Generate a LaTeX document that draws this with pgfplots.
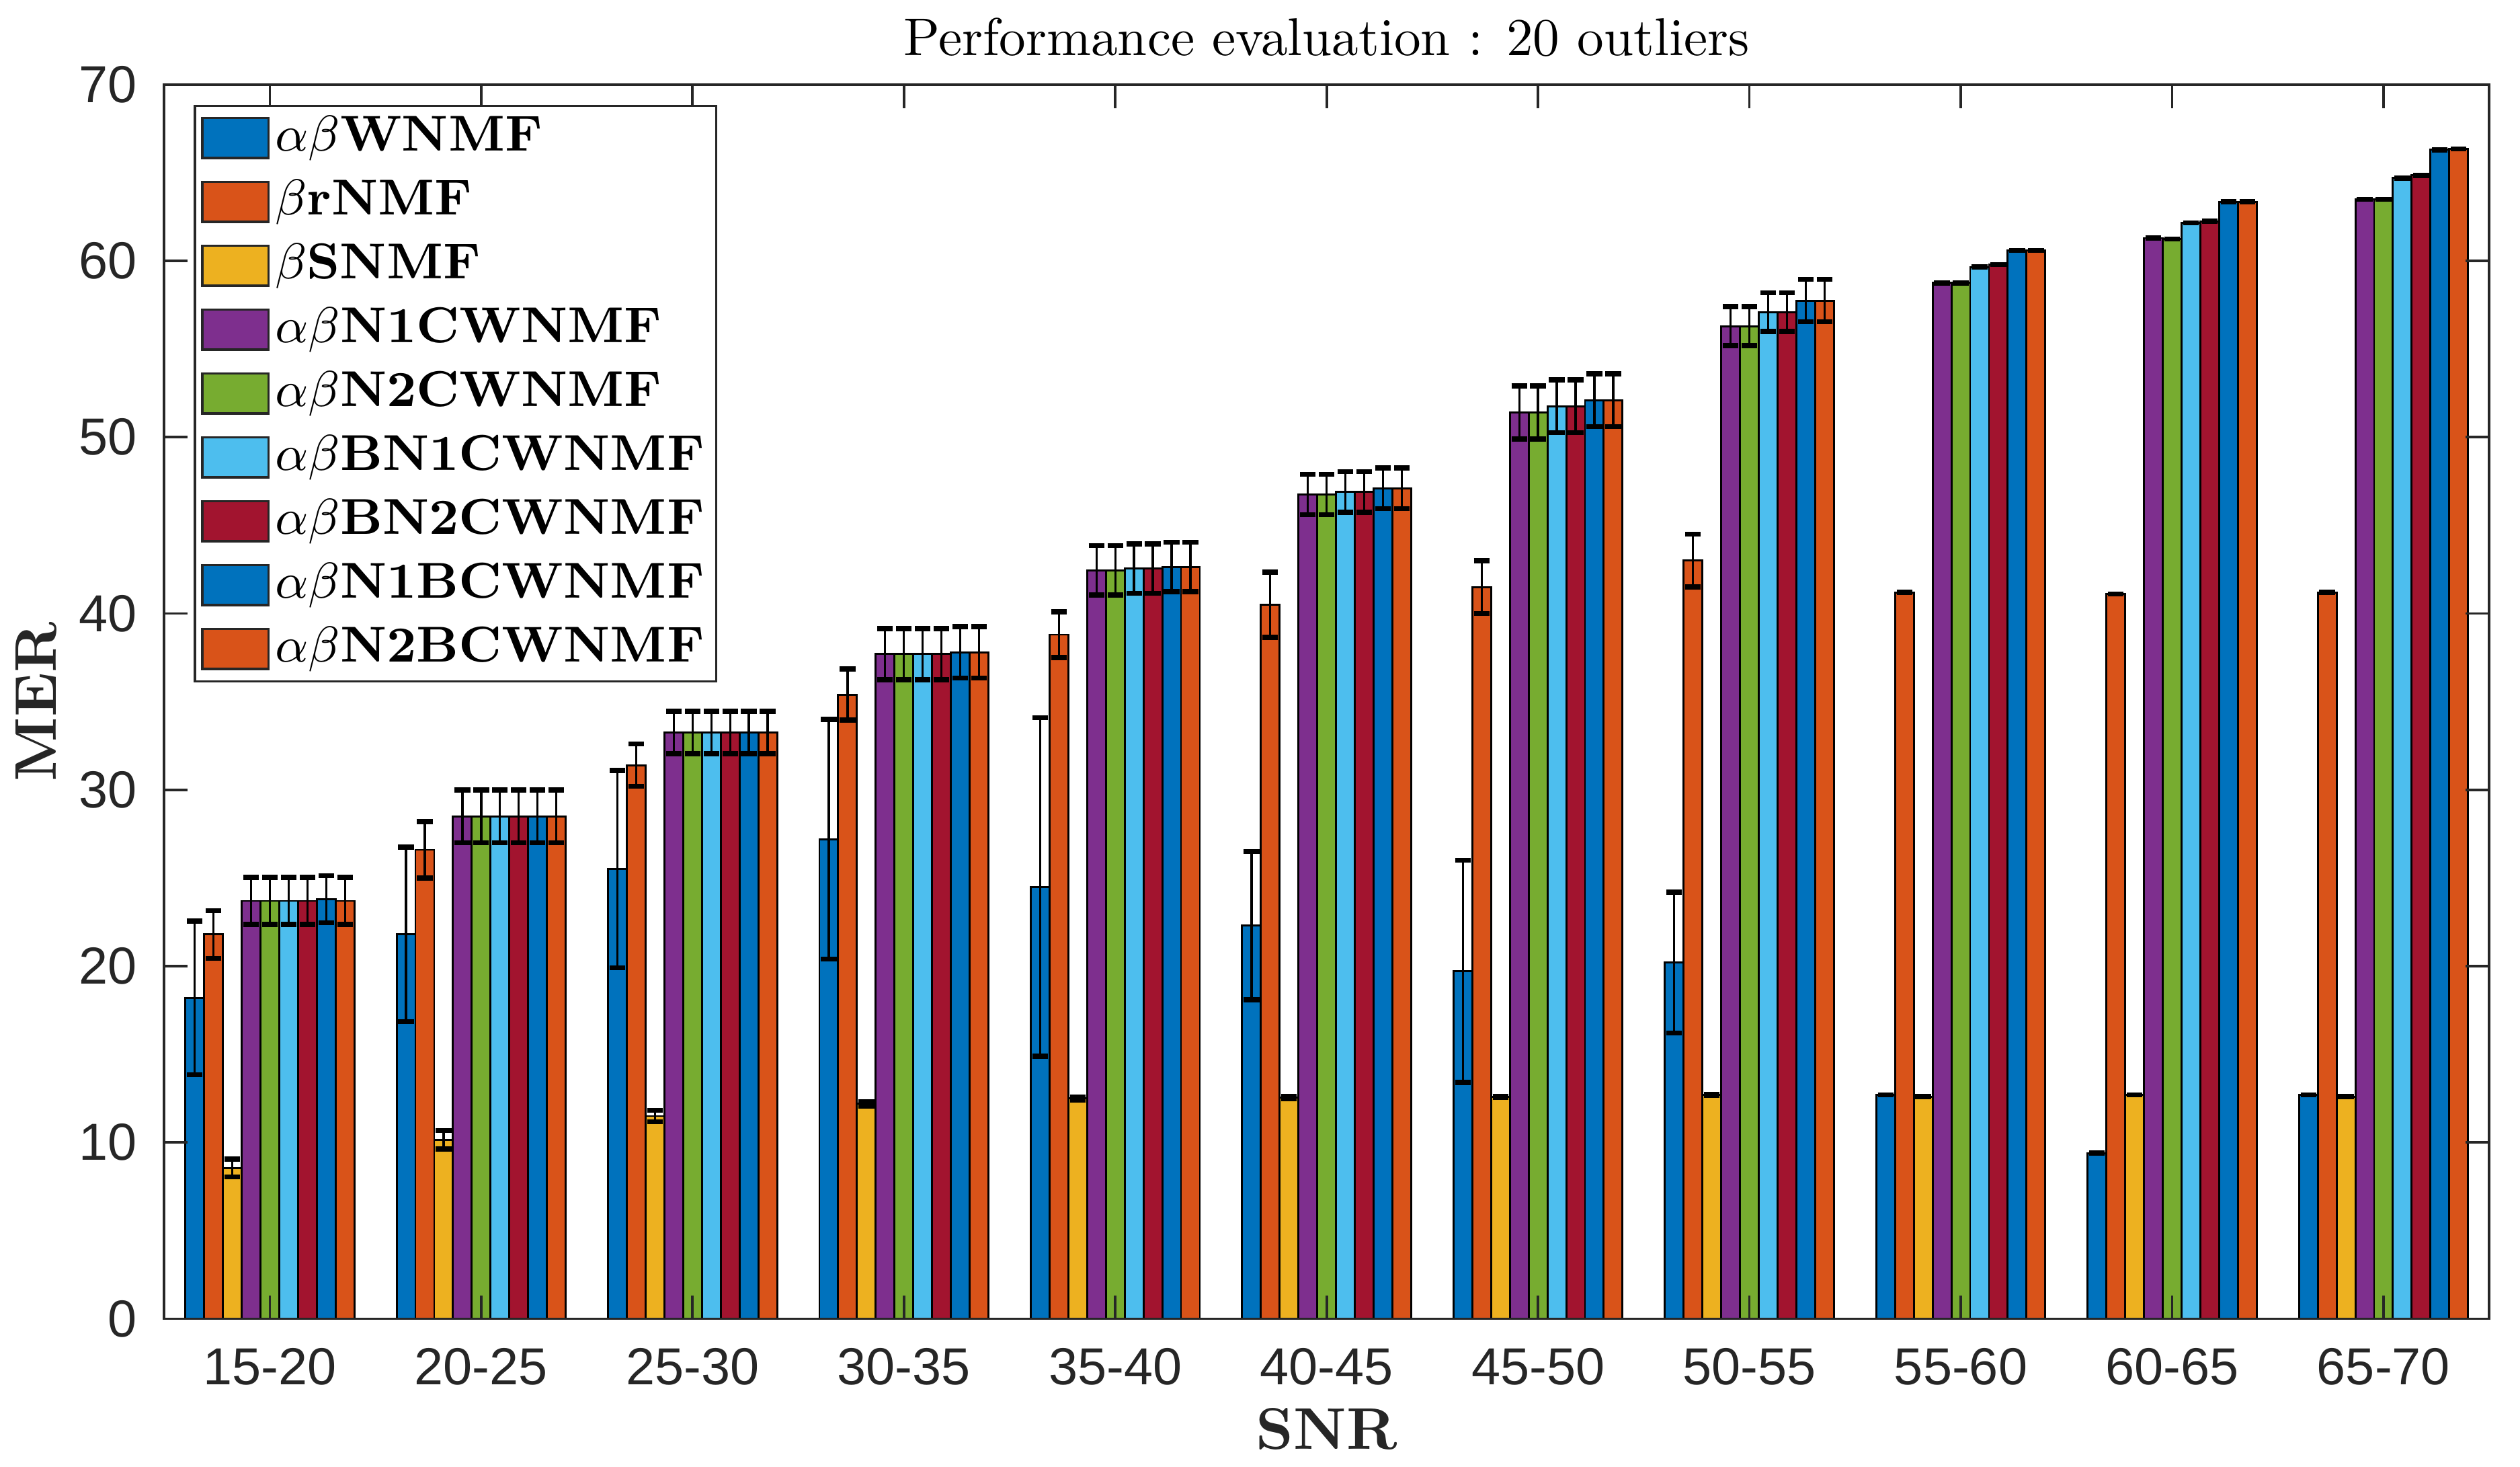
\documentclass[border=0pt]{standalone}
\usepackage{pgfplots}
\pgfplotsset{compat=1.18}
\usepackage{pgfplotstable}
\usepackage{fontspec}
\newfontfamily\ticksf{Liberation Sans}
\definecolor{c1}{rgb}{0,0.447,0.741}
\definecolor{c2}{rgb}{0.85,0.325,0.098}
\definecolor{c3}{rgb}{0.929,0.694,0.125}
\definecolor{c4}{rgb}{0.494,0.184,0.556}
\definecolor{c5}{rgb}{0.466,0.674,0.188}
\definecolor{c6}{rgb}{0.301,0.745,0.933}
\definecolor{c7}{rgb}{0.635,0.078,0.184}
\definecolor{axgray}{rgb}{0.15,0.15,0.15}

% alpha-beta WNMF
\pgfplotstableread{
x y e
0 18.2 4.35
1 21.8 4.95
2 25.5 5.6
3 27.2 6.8
4 24.5 9.6
5 22.3 4.2
6 19.7 6.3
7 20.2 4.0
8 12.7 0
9 9.4 0
10 12.7 0
}\tA
% beta rNMF
\pgfplotstableread{
x y e
0 21.8 1.35
1 26.6 1.6
2 31.4 1.2
3 35.4 1.45
4 38.8 1.3
5 40.5 1.85
6 41.5 1.5
7 43.0 1.5
8 41.2 0
9 41.1 0
10 41.2 0
}\tB
% beta SNMF
\pgfplotstableread{
x y e
0 8.55 0.5
1 10.15 0.52
2 11.5 0.32
3 12.2 0.12
4 12.5 0.08
5 12.55 0.06
6 12.6 0.03
7 12.7 0.03
8 12.6 0
9 12.7 0
10 12.6 0
}\tC
% N1CWNMF
\pgfplotstableread{
x y e
0 23.7 1.33
1 28.5 1.5
2 33.25 1.2
3 37.7 1.45
4 42.45 1.4
5 46.75 1.15
6 51.4 1.5
7 56.3 1.1
8 58.75 0
9 61.3 0
10 63.5 0
}\tD
% N2CWNMF
\pgfplotstableread{
x y e
0 23.7 1.33
1 28.5 1.5
2 33.25 1.2
3 37.7 1.45
4 42.45 1.4
5 46.75 1.15
6 51.4 1.5
7 56.3 1.1
8 58.75 0
9 61.25 0
10 63.5 0
}\tE
% BN1CWNMF
\pgfplotstableread{
x y e
0 23.7 1.33
1 28.5 1.5
2 33.25 1.2
3 37.7 1.45
4 42.55 1.4
5 46.9 1.15
6 51.75 1.5
7 57.1 1.1
8 59.65 0
9 62.15 0
10 64.7 0
}\tF
% BN2CWNMF
\pgfplotstableread{
x y e
0 23.7 1.33
1 28.5 1.5
2 33.25 1.2
3 37.7 1.45
4 42.55 1.4
5 46.9 1.15
6 51.75 1.5
7 57.1 1.1
8 59.8 0
9 62.25 0
10 64.85 0
}\tG
% N1BCWNMF
\pgfplotstableread{
x y e
0 23.8 1.33
1 28.5 1.5
2 33.25 1.2
3 37.8 1.45
4 42.65 1.4
5 47.1 1.15
6 52.1 1.5
7 57.75 1.2
8 60.6 0
9 63.35 0
10 66.3 0
}\tH
% N2BCWNMF
\pgfplotstableread{
x y e
0 23.7 1.33
1 28.5 1.5
2 33.25 1.2
3 37.8 1.45
4 42.65 1.4
5 47.1 1.15
6 52.1 1.5
7 57.75 1.2
8 60.6 0
9 63.35 0
10 66.35 0
}\tI

\pgfplotsset{
  mybar/.style={fill=#1, draw=black, line width=0.35pt,
    error bars/y dir=both, error bars/y explicit,
    error bars/error bar style={line width=0.4pt, black, solid},
    error bars/error mark options={rotate=90, mark size=1.4pt, line width=0.9pt, black}},
}

\begin{document}
\begin{tikzpicture}
\path[use as bounding box] (-29.3pt,-26.4pt) rectangle (420.6pt,235.4pt);
\begin{axis}[
  at={(0pt,0pt)}, anchor=south west,
  scale only axis, width=415.1pt, height=220.3pt,
  xmin=-0.5, xmax=10.5, ymin=0, ymax=70,
  ybar=0pt, bar width=3.354pt,
  axis on top,
  axis line style={axgray, line width=0.45pt},
  every tick/.style={axgray, line width=0.45pt},
  tick align=inside, tick pos=both, major tick length=4.2pt,
  xtick={0,...,10},
  xticklabels={15-20,20-25,25-30,30-35,35-40,40-45,45-50,50-55,55-60,60-65,65-70},
  ytick={0,10,...,70},
  /pgf/number format/assume math mode=true,
  tick label style={font=\ticksf\fontsize{9.3}{10}\selectfont, text=axgray},
  xticklabel style={yshift=-1.7pt},
  yticklabel style={xshift=-1.3pt},
  xlabel={\textbf{SNR}}, ylabel={\textbf{MER}},
  xlabel style={font=\fontsize{10.5}{12}\selectfont, text=axgray, at={(axis description cs:0.5,-0.0894)}, anchor=center},
  ylabel style={font=\fontsize{10.5}{12}\selectfont, text=axgray, at={(axis description cs:-0.0549,0.5)}, anchor=center},
  title={Performance evaluation : 20 outliers},
  every axis title/.style={font=\fontsize{9.5}{11}\selectfont, at={(0.5,1)}, anchor=base, yshift=5.2pt},
  legend cell align=left,
  legend image code/.code={\draw[#1, draw=black!85, line width=0.4pt] (0pt,-3.55pt) rectangle (11.8pt,3.55pt);},
  legend style={at={(axis description cs:0.0128,0.9837)}, anchor=north west,
    draw=axgray, line width=0.4pt, fill=white,
    font=\fontsize{9}{11}\selectfont,
    inner xsep=1.1pt, inner ysep=0.5pt, row sep=0.9pt,
    nodes={inner sep=1pt, text height=6.5pt, text depth=2pt}},
]
\addplot[mybar=c1] table[x=x,y=y,y error=e]{\tA};
\addplot[mybar=c2] table[x=x,y=y,y error=e]{\tB};
\addplot[mybar=c3] table[x=x,y=y,y error=e]{\tC};
\addplot[mybar=c4] table[x=x,y=y,y error=e]{\tD};
\addplot[mybar=c5] table[x=x,y=y,y error=e]{\tE};
\addplot[mybar=c6] table[x=x,y=y,y error=e]{\tF};
\addplot[mybar=c7] table[x=x,y=y,y error=e]{\tG};
\addplot[mybar=c1] table[x=x,y=y,y error=e]{\tH};
\addplot[mybar=c2] table[x=x,y=y,y error=e]{\tI};
\legend{$\alpha\beta$\textbf{WNMF},$\beta$\textbf{rNMF},$\beta$\textbf{SNMF},$\alpha\beta$\textbf{N1CWNMF},$\alpha\beta$\textbf{N2CWNMF},$\alpha\beta$\textbf{BN1CWNMF},$\alpha\beta$\textbf{BN2CWNMF},$\alpha\beta$\textbf{N1BCWNMF},$\alpha\beta$\textbf{N2BCWNMF}}
\end{axis}
\end{tikzpicture}
\end{document}
